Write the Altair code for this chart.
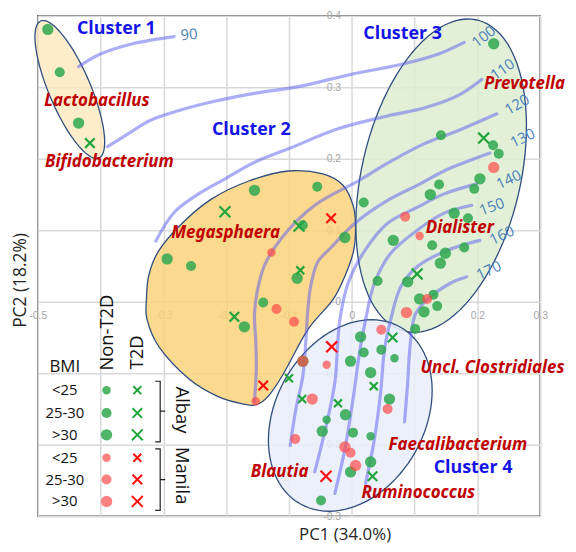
import altair as alt
import numpy as np
import pandas as pd

S, M, L = "<25", "25-30", ">30"

# ---------------- axes ----------------
x_ticks = [-0.5, -0.4, -0.3, -0.2, -0.1, 0.0, 0.1, 0.2, 0.3]
y_ticks = [-0.3, -0.2, -0.1, 0.0, 0.1, 0.2, 0.3, 0.4]

# ---------------- samples (PC1, PC2) ----------------
albay_non_x = [-0.484, -0.465, -0.435, -0.155, -0.055, -0.078, -0.011, -0.294, -0.256, -0.087,
               -0.141, -0.171, -0.078, 0.226, 0.142, 0.225, 0.234, 0.204, 0.195, 0.139,
               0.125, 0.019, 0.163, 0.185, 0.066, 0.128, 0.179, 0.149, 0.141, 0.041,
               0.089, 0.108, 0.130, 0.136, 0.115, 0.101, 0.014, 0.047, 0.019, 0.068,
               -0.002, 0.030, 0.060, -0.010, -0.040, -0.047, 0.002, 0.030, 0.030, -0.002, -0.049]
albay_non_y = [0.381, 0.321, 0.250, 0.156, 0.161, 0.107, 0.090, 0.060, 0.050, 0.033,
               -0.001, -0.035, -0.083, 0.361, 0.233, 0.219, 0.207, 0.172, 0.158, 0.164,
               0.150, 0.139, 0.124, 0.117, 0.086, 0.079, 0.076, 0.068, 0.054, 0.029,
               0.028, 0.004, 0.010, -0.006, -0.014, -0.038, -0.049, -0.067, -0.071, -0.079,
               -0.083, -0.099, -0.136, -0.158, -0.165, -0.181, -0.183, -0.188, -0.224, -0.238, -0.278]
albay_non_bmi = [L, M, L, L, M, M, L, L, M, L,
                 M, L, L, L, M, M, M, L, M, M,
                 L, M, L, M, L, M, M, L, L, M,
                 L, L, M, M, L, M, L, M, M, S,
                 L, L, L, L, S, L, M, S, L, L, M]

manila_non_x = [-0.128, -0.120, -0.153, 0.226, 0.085, 0.108, 0.120, 0.087, -0.092, 0.047,
                -0.078, -0.040, -0.063, 0.057, -0.090, -0.011, -0.002, 0.006]
manila_non_y = [0.069, -0.010, -0.139, 0.188, 0.119, 0.092, 0.004, -0.015, -0.028, -0.039,
                -0.083, -0.088, -0.136, -0.150, -0.192, -0.203, -0.211, -0.229]
manila_non_bmi = [S, M, S, L, M, S, M, L, M, M, L, S, L, M, M, L, M, L]

albay_t2d_x = [-0.417, -0.202, -0.084, -0.082, -0.187, 0.210, 0.104, 0.065, -0.100, 0.035, -0.079, -0.022, 0.033]
albay_t2d_y = [0.222, 0.126, 0.106, 0.044, -0.021, 0.229, 0.039, -0.050, -0.107, -0.118, -0.136, -0.142, -0.244]
albay_t2d_bmi = [M, L, L, S, M, L, L, M, S, S, S, S, M]

manila_t2d_x = [-0.033, -0.141, -0.032, -0.041]
manila_t2d_y = [0.117, -0.117, -0.063, -0.244]
manila_t2d_bmi = [M, M, L, L]

# ---------------- isolines ----------------
c090_x = [-0.435, -0.402, -0.349, -0.283]
c090_y = [0.329, 0.346, 0.361, 0.371]
c100_x = [-0.389, -0.349, -0.323, -0.270, -0.217, -0.153, -0.085, -0.002, 0.078, 0.136, 0.179]
c100_y = [0.217, 0.239, 0.253, 0.269, 0.281, 0.292, 0.301, 0.318, 0.332, 0.346, 0.363]
c110_x = [-0.312, -0.283, -0.244, -0.204, -0.153, -0.101, -0.022, 0.057, 0.115, 0.168, 0.207]
c110_y = [0.085, 0.125, 0.151, 0.171, 0.196, 0.214, 0.242, 0.260, 0.271, 0.288, 0.311]
c120_x = [-0.155, -0.152, -0.153, -0.155, -0.150, -0.139, -0.112, -0.059, 0.010, 0.057, 0.115, 0.168, 0.231]
c120_y = [-0.139, -0.094, -0.053, -0.018, 0.017, 0.051, 0.089, 0.135, 0.169, 0.194, 0.221, 0.239, 0.263]
c130_x = [-0.098, -0.089, -0.078, -0.073, -0.070, -0.065, -0.054, -0.033, 0.005, 0.057, 0.109, 0.147, 0.220]
c130_y = [-0.201, -0.150, -0.104, -0.053, -0.011, 0.024, 0.056, 0.076, 0.110, 0.142, 0.165, 0.183, 0.208]
c140_x = [-0.059, -0.041, -0.027, -0.022, -0.019, -0.006, 0.021, 0.057, 0.104, 0.147, 0.199]
c140_y = [-0.238, -0.174, -0.113, -0.053, -0.025, 0.026, 0.072, 0.110, 0.132, 0.151, 0.165]
c150_x = [-0.027, -0.011, 0.002, 0.013, 0.022, 0.036, 0.062, 0.104, 0.147, 0.191]
c150_y = [-0.268, -0.206, -0.136, -0.067, -0.025, 0.026, 0.068, 0.100, 0.124, 0.135]
c160_x = [0.022, 0.036, 0.046, 0.052, 0.062, 0.078, 0.104, 0.152, 0.204]
c160_y = [-0.254, -0.192, -0.126, -0.067, -0.025, 0.021, 0.049, 0.072, 0.086]
c170_x = [0.084, 0.089, 0.093, 0.101, 0.120, 0.157, 0.183]
c170_y = [-0.168, -0.113, -0.060, -0.018, 0.003, 0.026, 0.035]

iso_levels = ["90", "100", "110", "120", "130", "140", "150", "160", "170"]
iso_label_x = [-0.259, 0.210, 0.240, 0.263, 0.272, 0.250, 0.223, 0.239, 0.218]
iso_label_y = [0.374, 0.371, 0.325, 0.276, 0.229, 0.171, 0.133, 0.093, 0.044]
iso_label_angle = [355, 322, 325, 330, 335, 335, 340, 335, 335]

# ---------------- clusters ----------------
cluster1_center, cluster1_major, cluster1_minor = (-0.449, 0.297), (0.0463, -0.0958), (0.0306, 0.0114)
cluster3_center, cluster3_major, cluster3_minor = (0.1423, 0.1764), (0.0572, 0.2178), (0.1232, -0.0250)
cluster4_center, cluster4_major, cluster4_minor = (-0.0024, -0.159), (0.0794, 0.1238), (0.1034, -0.0512)
cluster2_x = [-0.327, -0.323, -0.307, -0.270, -0.223, -0.164, -0.101, -0.046, -0.014, 0.002, 0.006, 0.003,
              -0.010, -0.030, -0.070, -0.109, -0.133, -0.152, -0.172, -0.212, -0.259, -0.307, -0.326]
cluster2_y = [0.003, 0.038, 0.072, 0.110, 0.144, 0.169, 0.183, 0.179, 0.163, 0.135, 0.107, 0.072,
              0.038, 0.003, -0.039, -0.101, -0.132, -0.144, -0.143, -0.133, -0.108, -0.063, -0.025]

cluster_names = ["Cluster 1", "Cluster 2", "Cluster 3", "Cluster 4"]
cluster_label_x = [-0.375, -0.160, 0.081, 0.193]
cluster_label_y = [0.382, 0.240, 0.374, -0.233]

genus_names = ["Lactobacillus", "Bifidobacterium", "Megasphaera", "Prevotella", "Dialister",
               "Uncl. Clostridiales", "Faecalibacterium", "Ruminococcus", "Blautia"]
genus_x = [-0.406, -0.386, -0.201, 0.275, 0.172, 0.224, 0.169, 0.106, -0.115]
genus_y = [0.281, 0.196, 0.096, 0.304, 0.103, -0.092, -0.200, -0.268, -0.238]

# ---------------- in-plot key ----------------
key_sites = ["Albay", "Albay", "Albay", "Manila", "Manila", "Manila"]
key_bmi = [S, M, L, S, M, L]
key_row_y = [-0.1236, -0.1556, -0.1861, -0.2181, -0.2486, -0.2792]
key_text_x, key_circle_x, key_cross_x = -0.457, -0.3905, -0.3415
key_head_text = ["BMI", "Non-T2D", "T2D", "Albay", "Manila"]
key_head_x = [-0.457, -0.3905, -0.3415, -0.2704, -0.2704]
key_head_y = [-0.0917, -0.0431, -0.0708, -0.1514, -0.2431]
key_head_angle = [0, 270, 270, 90, 90]
key_head_size = [17, 18.5, 18.5, 18.5, 18.5]
bracket_x = [-0.3130, -0.3051, -0.3051, -0.2972, -0.3051, -0.3051, -0.3130]
bracket_albay_y = [-0.1111, -0.1111, -0.1528, -0.1528, -0.1528, -0.1958, -0.1958]
bracket_manila_y = [-0.2056, -0.2056, -0.2486, -0.2486, -0.2486, -0.2917, -0.2917]

# ================= build tables =================
def samples(xs, ys, bmis, site):
    return pd.DataFrame({"x": xs, "y": ys, "bmi": bmis, "site": site})

circles_df = pd.concat([samples(albay_non_x, albay_non_y, albay_non_bmi, "Albay"),
                        samples(manila_non_x, manila_non_y, manila_non_bmi, "Manila")], ignore_index=True)
crosses_df = pd.concat([samples(albay_t2d_x, albay_t2d_y, albay_t2d_bmi, "Albay"),
                        samples(manila_t2d_x, manila_t2d_y, manila_t2d_bmi, "Manila")], ignore_index=True)
key_circles = pd.DataFrame({"x": key_circle_x, "y": key_row_y, "bmi": key_bmi, "site": key_sites})
key_crosses = pd.DataFrame({"x": key_cross_x, "y": key_row_y, "bmi": key_bmi, "site": key_sites})
key_texts = pd.DataFrame({"x": key_text_x, "y": key_row_y, "text": key_bmi})
key_heads = pd.DataFrame({"x": key_head_x, "y": key_head_y, "text": key_head_text,
                          "angle": key_head_angle, "fs": key_head_size})
brackets = pd.concat([
    pd.DataFrame({"x": bracket_x, "y": bracket_albay_y, "g": "Albay", "i": range(7)}),
    pd.DataFrame({"x": bracket_x, "y": bracket_manila_y, "g": "Manila", "i": range(7)})], ignore_index=True)

iso_x = [c090_x, c100_x, c110_x, c120_x, c130_x, c140_x, c150_x, c160_x, c170_x]
iso_y = [c090_y, c100_y, c110_y, c120_y, c130_y, c140_y, c150_y, c160_y, c170_y]
iso_df = pd.concat([pd.DataFrame({"x": xs, "y": ys, "level": lv, "i": range(len(xs))})
                    for lv, xs, ys in zip(iso_levels, iso_x, iso_y)], ignore_index=True)
iso_lab = pd.DataFrame({"x": iso_label_x, "y": iso_label_y, "text": iso_levels, "angle": iso_label_angle})


def ellipse(center, major, minor, n=96):
    t = np.linspace(0, 2 * np.pi, n, endpoint=False)
    return pd.DataFrame({"x": center[0] + major[0] * np.cos(t) + minor[0] * np.sin(t),
                         "y": center[1] + major[1] * np.cos(t) + minor[1] * np.sin(t),
                         "i": np.arange(n)})

blob2 = pd.DataFrame({"x": cluster2_x, "y": cluster2_y, "i": range(len(cluster2_x))})
clusters_text = pd.DataFrame({"x": cluster_label_x, "y": cluster_label_y, "text": cluster_names})
genus_text = pd.DataFrame({"x": genus_x, "y": genus_y, "text": genus_names})

# ================= scales / axes =================
sx = alt.Scale(domain=[-0.5, 0.3], nice=False, zero=False)
sy = alt.Scale(domain=[-0.3, 0.4], nice=False, zero=False)
lab = "'' + round(datum.value * 10) / 10"
xaxis = alt.Axis(values=x_ticks, labelExpr="abs(datum.value + 0.4) < 0.001 ? '' : " + lab,
                 grid=True, gridColor="#d9d9d9", gridWidth=1.5, domain=False, ticks=False,
                 offset=-216, labelColor="#a6a6a6", labelFontSize=10.5, labelFont="Liberation Sans",
                 labelPadding=9, labelFlush=False, labelOverlap=False,
                 title="PC1 (34.0%)", titleX=309, titleY=234, titleAlign="center", titleBaseline="middle",
                 titleFont="Open Sans", titleFontSize=17, titleFontWeight="normal", titleColor="#262626")
yaxis = alt.Axis(values=y_ticks, labelExpr=lab,
                 grid=True, gridColor="#d9d9d9", gridWidth=1.5, domain=False, ticks=False,
                 offset=-316, labelColor="#a6a6a6", labelFontSize=10.5, labelFont="Liberation Sans",
                 labelPadding=11, labelFlush=False, labelOverlap=False,
                 title="PC2 (18.2%)", titleX=-333, titleY=266, titleAngle=270, titleAlign="center",
                 titleBaseline="middle",
                 titleFont="Open Sans", titleFontSize=17.5, titleFontWeight="normal", titleColor="#262626")

X = alt.X("x:Q", scale=sx, axis=xaxis)
Y = alt.Y("y:Q", scale=sy, axis=yaxis)
outline = dict(stroke="#2f4d7e", strokeWidth=1.3)

c1 = alt.Chart(ellipse(cluster1_center, cluster1_major, cluster1_minor)).mark_line(
    interpolate="linear-closed", fill="#fce8bd", fillOpacity=0.8, **outline).encode(x=X, y=Y, order="i:Q")
c2 = alt.Chart(blob2).mark_line(
    interpolate="cardinal-closed", fill="#fad27a", fillOpacity=0.85, **outline).encode(x=X, y=Y, order="i:Q")
c3 = alt.Chart(ellipse(cluster3_center, cluster3_major, cluster3_minor)).mark_line(
    interpolate="linear-closed", fill="#dcedd0", fillOpacity=0.85, **outline).encode(x=X, y=Y, order="i:Q")
c4 = alt.Chart(ellipse(cluster4_center, cluster4_major, cluster4_minor)).mark_line(
    interpolate="linear-closed", fill="#e8eef9", fillOpacity=0.88, **outline).encode(x=X, y=Y, order="i:Q")

iso = alt.Chart(iso_df).mark_line(interpolate="catmull-rom", stroke="#5b5bef", strokeOpacity=0.5,
                                  strokeWidth=3.2, strokeCap="round").encode(
    x=X, y=Y, detail="level:N", order="i:Q")
iso_text = alt.Chart(iso_lab).mark_text(font="Open Sans", fontSize=15, color="#4a7ebb").encode(
    x=X, y=Y, text="text:N", angle=alt.Angle("angle:Q", scale=None))

circ_color = alt.Color("site:N", scale=alt.Scale(domain=["Albay", "Manila"], range=["#2fa84f", "#ff4a4a"]), legend=None)
circ_op = alt.Opacity("site:N", scale=alt.Scale(domain=["Albay", "Manila"], range=[0.85, 0.7]), legend=None)
circ_size = alt.Size("bmi:O", scale=alt.Scale(domain=[S, M, L], range=[72, 130, 200]), legend=None)
cross_color = alt.Color("site:N", scale=alt.Scale(domain=["Albay", "Manila"], range=["#22a53c", "#ff1010"]), legend=None)
cross_size = alt.Size("bmi:O", scale=alt.Scale(domain=[S, M, L], range=[64, 121, 196]), legend=None)
xshape = "M-1,-1L1,1M-1,1L1,-1"

circles = alt.Chart(circles_df).mark_circle().encode(x=X, y=Y, color=circ_color, opacity=circ_op, size=circ_size)
crosses = alt.Chart(crosses_df).mark_point(shape=xshape, filled=False, strokeWidth=2.2, opacity=1).encode(
    x=X, y=Y, color=cross_color, size=cross_size)
kc = alt.Chart(key_circles).mark_circle().encode(x=X, y=Y, color=circ_color, opacity=circ_op, size=circ_size)
kx = alt.Chart(key_crosses).mark_point(shape=xshape, filled=False, strokeWidth=2.0, opacity=1).encode(
    x=X, y=Y, color=cross_color, size=cross_size)
kt = alt.Chart(key_texts).mark_text(font="Open Sans", fontSize=15, color="#111111").encode(x=X, y=Y, text="text:N")
kh = alt.Chart(key_heads).mark_text(font="Open Sans", color="#111111").encode(
    x=X, y=Y, text="text:N", angle=alt.Angle("angle:Q", scale=None), size=alt.Size("fs:Q", scale=None))
kb = alt.Chart(brackets).mark_line(color="#222222", strokeWidth=1.2).encode(x=X, y=Y, detail="g:N", order="i:Q")

ctext = alt.Chart(clusters_text).mark_text(font="Open Sans", fontWeight="bold", fontSize=18, color="#1414e6").encode(
    x=X, y=Y, text="text:N")
gtext = alt.Chart(genus_text).mark_text(font="Noto Sans", fontWeight="bold", fontStyle="italic", fontSize=17,
                                        color="#c00000").encode(x=X, y=Y, text="text:N")

chart = alt.layer(c1, c2, c3, c4, iso, iso_text, circles, crosses, kc, kx, kt, kh, kb, ctext, gtext).properties(
    width=506, height=504, autosize=alt.AutoSizeParams(type="none"),
    padding={"left": 30, "top": 6, "right": 28, "bottom": 26}
).resolve_scale(color="independent", size="independent", opacity="independent").configure_view(
    stroke="#595959", strokeWidth=1.5)

chart.save("out.html", embed_options={"renderer": "svg", "actions": False})
